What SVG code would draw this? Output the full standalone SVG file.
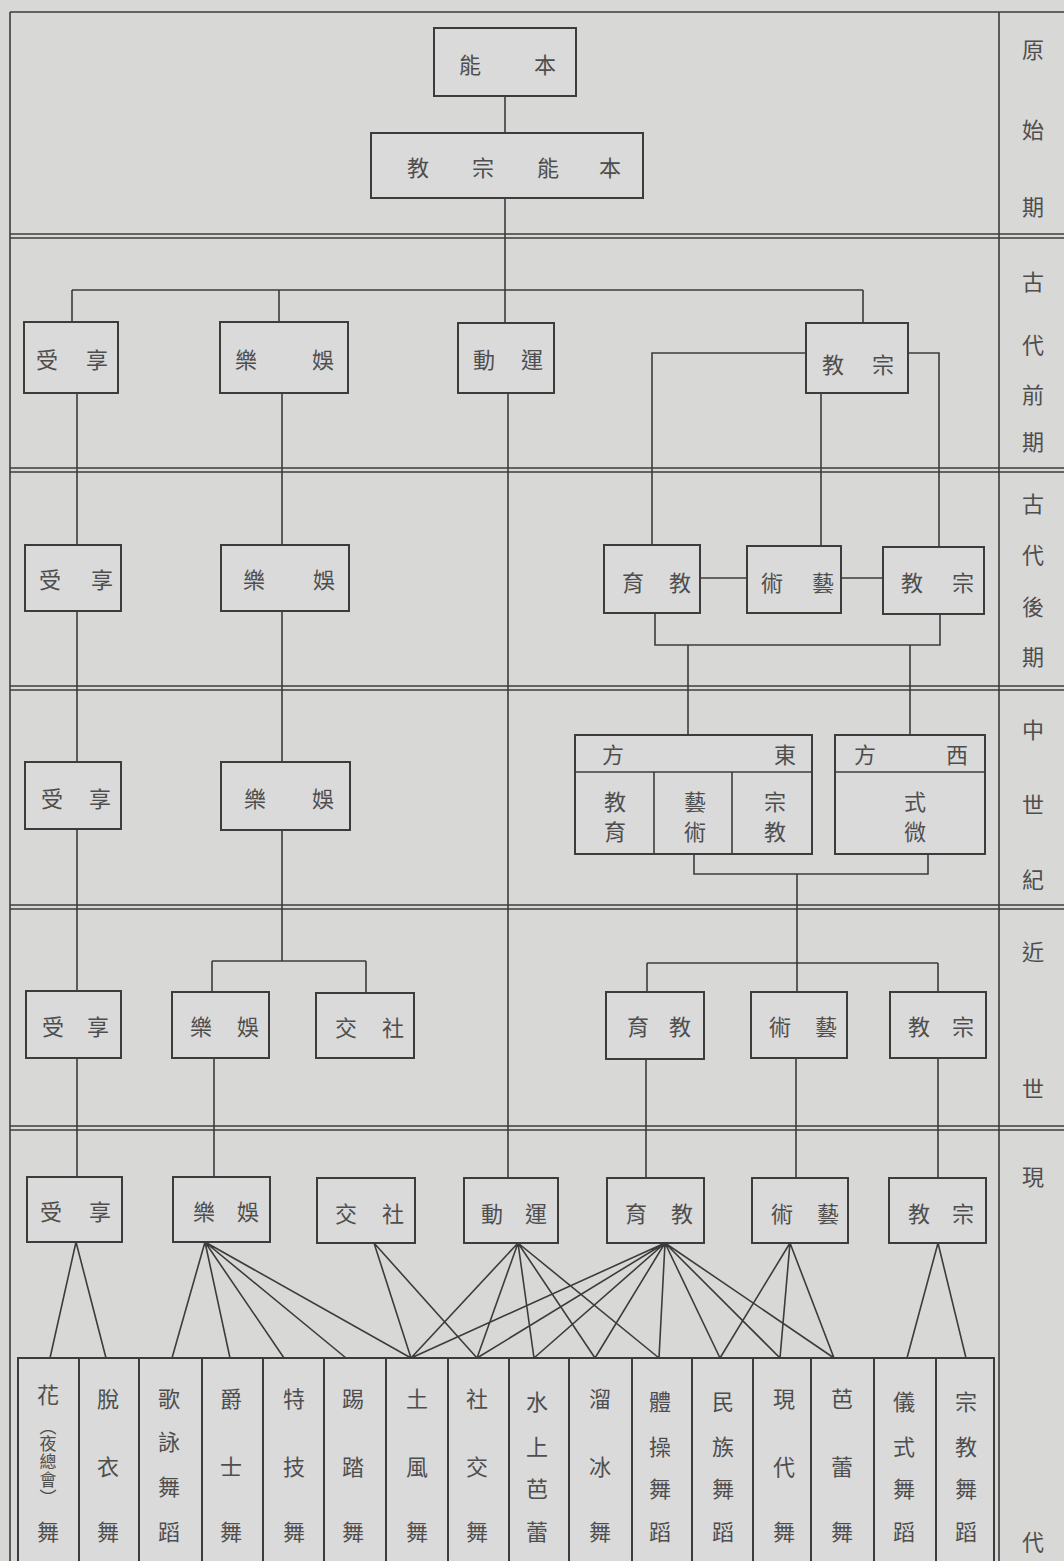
<svg xmlns="http://www.w3.org/2000/svg" width="1064" height="1561" viewBox="0 0 1064 1561">
<style>
.bx{fill:#dadada;stroke:#3c3c3c;stroke-width:2}
.ln{stroke:#3c3c3c;stroke-width:1.6;fill:none}
.fr{stroke:#3c3c3c;stroke-width:1.6;fill:none}
.t{font-family:"Noto Sans CJK TC","Noto Sans CJK JP",sans-serif;font-size:22px;fill:#4e4e4e;text-anchor:middle;dominant-baseline:central}
.s{font-size:17px}
</style>
<rect x="0" y="0" width="1064" height="1561" fill="#d8d8d6"/>
<g id="frame">
<line class="fr" x1="10" y1="12" x2="1064" y2="12"/>
<line class="fr" x1="10" y1="12" x2="10" y2="1561"/>
<line class="fr" x1="999" y1="12" x2="999" y2="1561"/>
<line class="fr" x1="10" y1="234" x2="1064" y2="234"/><line class="fr" x1="10" y1="238" x2="1064" y2="238"/>
<line class="fr" x1="10" y1="468" x2="1064" y2="468"/><line class="fr" x1="10" y1="472" x2="1064" y2="472"/>
<line class="fr" x1="10" y1="686" x2="1064" y2="686"/><line class="fr" x1="10" y1="690" x2="1064" y2="690"/>
<line class="fr" x1="10" y1="905" x2="1064" y2="905"/><line class="fr" x1="10" y1="909" x2="1064" y2="909"/>
<line class="fr" x1="10" y1="1126" x2="1064" y2="1126"/><line class="fr" x1="10" y1="1130" x2="1064" y2="1130"/>
</g>
<g id="periods">
<text class="t" x="1033 1033 1033" y="48 128 205">原始期</text>
<text class="t" x="1033 1033 1033 1033" y="280 343 393 440">古代前期</text>
<text class="t" x="1033 1033 1033 1033" y="502 553 605 655">古代後期</text>
<text class="t" x="1033 1033 1033" y="728 803 878">中世紀</text>
<text class="t" x="1033 1033" y="950 1087">近世</text>
<text class="t" x="1033" y="1175">現</text>
<text class="t" x="1033" y="1540">代</text>
</g>
<g id="connectors">
<line class="ln" x1="505" y1="96" x2="505" y2="133"/>
<line class="ln" x1="505" y1="198" x2="505" y2="323"/>
<line class="ln" x1="72" y1="290" x2="863" y2="290"/>
<line class="ln" x1="72" y1="290" x2="72" y2="322"/>
<line class="ln" x1="279" y1="290" x2="279" y2="322"/>
<line class="ln" x1="863" y1="290" x2="863" y2="323"/>
<line class="ln" x1="77" y1="393" x2="77" y2="1177"/>
<line class="ln" x1="282" y1="393" x2="282" y2="961"/>
<line class="ln" x1="212" y1="961" x2="366" y2="961"/>
<line class="ln" x1="212" y1="961" x2="212" y2="992"/>
<line class="ln" x1="366" y1="961" x2="366" y2="993"/>
<line class="ln" x1="214" y1="1058" x2="214" y2="1177"/>
<line class="ln" x1="508" y1="393" x2="508" y2="1178"/>
<polyline class="ln" points="806,353 652,353 652,545"/>
<polyline class="ln" points="908,353 939,353 939,547"/>
<line class="ln" x1="821" y1="393" x2="821" y2="546"/>
<line class="ln" x1="700" y1="578" x2="747" y2="578"/>
<line class="ln" x1="841" y1="578" x2="883" y2="578"/>
<polyline class="ln" points="655,613 655,645 940,645 940,614"/>
<line class="ln" x1="688" y1="645" x2="688" y2="735"/>
<line class="ln" x1="910" y1="645" x2="910" y2="735"/>
<polyline class="ln" points="694,854 694,874 928,874 928,854"/>
<line class="ln" x1="797" y1="874" x2="797" y2="963"/>
<line class="ln" x1="647" y1="963" x2="938" y2="963"/>
<line class="ln" x1="647" y1="963" x2="647" y2="992"/>
<line class="ln" x1="938" y1="963" x2="938" y2="992"/>
<line class="ln" x1="797" y1="963" x2="797" y2="992"/>
<line class="ln" x1="646" y1="1059" x2="646" y2="1177"/>
<line class="ln" x1="796" y1="1058" x2="796" y2="1177"/>
<line class="ln" x1="938" y1="1058" x2="938" y2="1177"/>
<path class="ln" d="M76,1242L50,1358M76,1242L106,1358
M205,1242L172,1358M205,1242L230,1358M205,1242L284,1358M205,1242L346,1358M205,1242L411,1358
M374,1243L411,1358M374,1243L477,1358
M518,1243L411,1358M518,1243L477,1358M518,1243L534,1358M518,1243L595,1358M518,1243L659,1358
M665,1243L411,1358M665,1243L477,1358M665,1243L534,1358M665,1243L595,1358M665,1243L659,1358M665,1243L720,1358M665,1243L780,1358M665,1243L834,1358
M790,1243L720,1358M790,1243L780,1358M790,1243L834,1358
M938,1243L907,1358M938,1243L966,1358"/>
</g>
<g id="n-nengben"><rect class="bx" x="434" y="28" width="142" height="68"/><text class="t" x="470 545" y="63">能本</text></g>
<g id="n-zongjiao-nengben"><rect class="bx" x="371" y="133" width="272" height="65"/><text class="t" x="418 483 548 610" y="166">教宗能本</text></g>
<g id="n-xiangshou-1"><rect class="bx" x="24" y="322" width="94" height="71"/><text class="t" x="47 97" y="358">受享</text></g>
<g id="n-yule-1"><rect class="bx" x="220" y="322" width="128" height="71"/><text class="t" x="246 323" y="358">樂娛</text></g>
<g id="n-yundong-1"><rect class="bx" x="458" y="323" width="96" height="70"/><text class="t" x="484 532" y="358">動運</text></g>
<g id="n-zongjiao-1"><rect class="bx" x="806" y="323" width="102" height="70"/><text class="t" x="833 883" y="363">教宗</text></g>
<g id="n-xiangshou-2"><rect class="bx" x="25" y="545" width="96" height="66"/><text class="t" x="50 102" y="578">受享</text></g>
<g id="n-yule-2"><rect class="bx" x="221" y="545" width="128" height="66"/><text class="t" x="254 324" y="578">樂娛</text></g>
<g id="n-jiaoyu-2"><rect class="bx" x="604" y="545" width="96" height="68"/><text class="t" x="633 680" y="581">育教</text></g>
<g id="n-yishu-2"><rect class="bx" x="747" y="546" width="94" height="67"/><text class="t" x="772 823" y="581">術藝</text></g>
<g id="n-zongjiao-2"><rect class="bx" x="883" y="547" width="101" height="67"/><text class="t" x="912 963" y="581">教宗</text></g>
<g id="n-xiangshou-3"><rect class="bx" x="25" y="762" width="96" height="67"/><text class="t" x="52 100" y="797">受享</text></g>
<g id="n-yule-3"><rect class="bx" x="221" y="762" width="129" height="68"/><text class="t" x="255 323" y="797">樂娛</text></g>
<g id="n-dongfang">
<rect class="bx" x="575" y="735" width="237" height="119"/>
<line class="ln" x1="575" y1="772" x2="812" y2="772"/>
<line class="ln" x1="654" y1="772" x2="654" y2="854"/>
<line class="ln" x1="732" y1="772" x2="732" y2="854"/>
<text class="t" x="613 785" y="753">方東</text>
<text class="t" x="615 615" y="800 830">教育</text>
<text class="t" x="695 695" y="800 830">藝術</text>
<text class="t" x="775 775" y="800 830">宗教</text>
</g>
<g id="n-xifang">
<rect class="bx" x="835" y="735" width="150" height="119"/>
<line class="ln" x1="835" y1="772" x2="985" y2="772"/>
<text class="t" x="865 957" y="753">方西</text>
<text class="t" x="915 915" y="800 830">式微</text>
</g>
<g id="n-xiangshou-4"><rect class="bx" x="26" y="991" width="95" height="67"/><text class="t" x="53 98" y="1025">受享</text></g>
<g id="n-yule-4"><rect class="bx" x="172" y="992" width="97" height="66"/><text class="t" x="201 248" y="1025">樂娛</text></g>
<g id="n-shejiao-4"><rect class="bx" x="316" y="993" width="98" height="65"/><text class="t" x="346 393" y="1026">交社</text></g>
<g id="n-jiaoyu-4"><rect class="bx" x="606" y="992" width="98" height="67"/><text class="t" x="638 680" y="1025">育教</text></g>
<g id="n-yishu-4"><rect class="bx" x="751" y="992" width="96" height="66"/><text class="t" x="780 826" y="1025">術藝</text></g>
<g id="n-zongjiao-4"><rect class="bx" x="890" y="992" width="96" height="66"/><text class="t" x="919 963" y="1025">教宗</text></g>
<g id="n-xiangshou-5"><rect class="bx" x="27" y="1177" width="95" height="65"/><text class="t" x="51 100" y="1210">受享</text></g>
<g id="n-yule-5"><rect class="bx" x="173" y="1177" width="97" height="65"/><text class="t" x="204 248" y="1210">樂娛</text></g>
<g id="n-shejiao-5"><rect class="bx" x="317" y="1178" width="98" height="65"/><text class="t" x="346 393" y="1212">交社</text></g>
<g id="n-yundong-5"><rect class="bx" x="464" y="1178" width="94" height="65"/><text class="t" x="492 536" y="1212">動運</text></g>
<g id="n-jiaoyu-5"><rect class="bx" x="607" y="1178" width="97" height="65"/><text class="t" x="636 682" y="1212">育教</text></g>
<g id="n-yishu-5"><rect class="bx" x="752" y="1178" width="96" height="65"/><text class="t" x="782 828" y="1212">術藝</text></g>
<g id="n-zongjiao-5"><rect class="bx" x="889" y="1178" width="97" height="65"/><text class="t" x="919 963" y="1212">教宗</text></g>
<g id="dances">
<g id="d1"><rect class="bx" x="18" y="1358" width="61" height="210"/><text class="t" x="48" y="1393">花</text><text class="t s" x="48 48 48 48 48" y="1425 1442 1460 1478 1496">︵夜總會︶</text><text class="t" x="48" y="1530">舞</text></g>
<g id="d2"><rect class="bx" x="79" y="1358" width="60" height="210"/><text class="t" x="108 108 108" y="1397 1465 1530">脫衣舞</text></g>
<g id="d3"><rect class="bx" x="139" y="1358" width="63" height="210"/><text class="t" x="169 169 169 169" y="1397 1440 1485 1530">歌詠舞蹈</text></g>
<g id="d4"><rect class="bx" x="202" y="1358" width="61" height="210"/><text class="t" x="231 231 231" y="1397 1465 1530">爵士舞</text></g>
<g id="d5"><rect class="bx" x="263" y="1358" width="61" height="210"/><text class="t" x="294 294 294" y="1397 1465 1530">特技舞</text></g>
<g id="d6"><rect class="bx" x="324" y="1358" width="62" height="210"/><text class="t" x="353 353 353" y="1397 1465 1530">踢踏舞</text></g>
<g id="d7"><rect class="bx" x="386" y="1358" width="62" height="210"/><text class="t" x="417 417 417" y="1397 1465 1530">土風舞</text></g>
<g id="d8"><rect class="bx" x="448" y="1358" width="61" height="210"/><text class="t" x="477 477 477" y="1397 1465 1530">社交舞</text></g>
<g id="d9"><rect class="bx" x="509" y="1358" width="60" height="210"/><text class="t" x="537 537 537 537" y="1400 1445 1487 1530">水上芭蕾</text></g>
<g id="d10"><rect class="bx" x="569" y="1358" width="63" height="210"/><text class="t" x="600 600 600" y="1397 1465 1530">溜冰舞</text></g>
<g id="d11"><rect class="bx" x="632" y="1358" width="60" height="210"/><text class="t" x="660 660 660 660" y="1400 1445 1487 1530">體操舞蹈</text></g>
<g id="d12"><rect class="bx" x="692" y="1358" width="61" height="210"/><text class="t" x="723 723 723 723" y="1400 1445 1487 1530">民族舞蹈</text></g>
<g id="d13"><rect class="bx" x="753" y="1358" width="58" height="210"/><text class="t" x="784 784 784" y="1397 1465 1530">現代舞</text></g>
<g id="d14"><rect class="bx" x="811" y="1358" width="63" height="210"/><text class="t" x="842 842 842" y="1397 1465 1530">芭蕾舞</text></g>
<g id="d15"><rect class="bx" x="874" y="1358" width="62" height="210"/><text class="t" x="904 904 904 904" y="1400 1445 1487 1530">儀式舞蹈</text></g>
<g id="d16"><rect class="bx" x="936" y="1358" width="58" height="210"/><text class="t" x="966 966 966 966" y="1400 1445 1487 1530">宗教舞蹈</text></g>
</g>
</svg>
